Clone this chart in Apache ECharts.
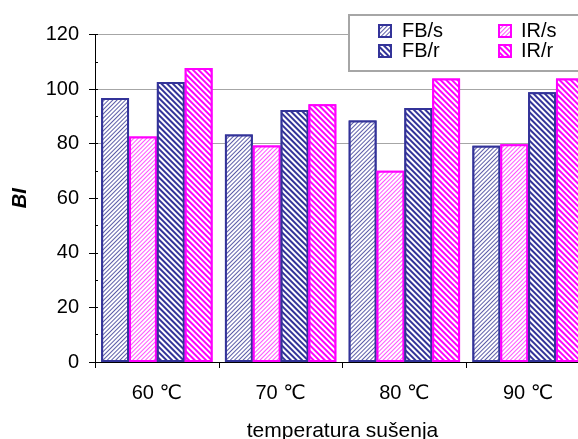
<!DOCTYPE html>
<html>
<head>
<meta charset="utf-8">
<script src="https://cdn.jsdelivr.net/npm/echarts@6/dist/echarts.min.js"></script>
<style>html,body{margin:0;padding:0;background:#fff}#c{width:578px;height:439px}</style>
</head>
<body>
<div id="c"></div>
<script>
const categories = ['60 ℃', '70 ℃', '80 ℃', '90 ℃'];
const seriesNames = ['FB/s', 'IR/s', 'FB/r', 'IR/r'];
const fbS = [96.7, 83.4, 88.5, 79.2];
const irS = [82.6, 79.3, 70.1, 79.8];
const fbR = [102.6, 92.3, 93.1, 98.8];
const irR = [107.7, 94.4, 103.9, 103.9];
const yTicks = [0, 20, 40, 60, 80, 100, 120];

const FONT = "'Liberation Sans', Arial, 'DejaVu Sans', sans-serif";
const BLUE = '#333399', MAG = '#FF00FF';

function mkSeries(name, data, border, stripe, rot, dashY) {
  return {
    name: name, type: 'bar', data: data, yAxisIndex: 0,
    barGap: '0%', barCategoryGap: '10%',
    itemStyle: {
      color: '#ffffff', borderColor: border, borderWidth: 2,
      decal: { symbol: 'rect', symbolSize: 1, dashArrayX: [1, 0], dashArrayY: dashY,
               rotation: rot, color: stripe, backgroundColor: '#ffffff' }
    },
    emphasis: { disabled: true }
  };
}

const chart = echarts.init(document.getElementById('c'), null, { renderer: 'canvas' });
const gridColors = yTicks.map(v => (v >= 80 ? '#a6a6a6' : 'rgba(0,0,0,0)'));

chart.setOption({
  animation: false,
  backgroundColor: '#ffffff',
  textStyle: { fontFamily: FONT },
  grid: { left: 95, width: 495, top: 34.5, bottom: 77, containLabel: false, outerBoundsMode: 'none' },
  graphic: [{
    type: 'rect', z: 9,
    shape: { x: 349, y: 15, width: 240, height: 56 },
    style: { fill: '#ffffff', stroke: '#a6a6a6', lineWidth: 2 }
  }],
  legend: [
    { data: ['FB/s', 'FB/r'], orient: 'vertical', left: 378, top: 21, padding: 0, z: 10,
      itemWidth: 12, itemHeight: 12, itemGap: 0, icon: 'rect', selectedMode: false,
      textStyle: { fontFamily: FONT, fontSize: 20, color: '#000', lineHeight: 20, padding: [0, 0, 0, 6] } },
    { data: ['IR/s', 'IR/r'], orient: 'vertical', left: 498, top: 21, padding: 0, z: 10,
      itemWidth: 12, itemHeight: 12, itemGap: 0, icon: 'rect', selectedMode: false,
      textStyle: { fontFamily: FONT, fontSize: 20, color: '#000', lineHeight: 20, padding: [0, 0, 0, 5] } }
  ],
  xAxis: {
    type: 'category', data: categories, boundaryGap: true,
    name: 'temperatura sušenja', nameLocation: 'middle', nameGap: 59,
    nameTextStyle: { fontFamily: FONT, fontSize: 21, color: '#000' },
    axisLine: { lineStyle: { color: '#000', width: 1 } },
    axisTick: { show: true, length: 6, alignWithLabel: false, lineStyle: { color: '#000' } },
    axisLabel: { fontFamily: FONT, fontSize: 20, color: '#000', margin: 21 },
    splitLine: { show: false }
  },
  yAxis: [
    {
      type: 'value', min: 0, max: 120, interval: 20,
      name: 'BI', nameLocation: 'middle', nameGap: 65, nameRotate: 90,
      nameTextStyle: { fontFamily: FONT, fontSize: 20, fontWeight: 'bold', fontStyle: 'italic', color: '#000' },
      axisLine: { show: true, lineStyle: { color: '#000', width: 1 } },
      axisTick: { show: true, length: 6, lineStyle: { color: '#000' } },
      axisLabel: { fontFamily: FONT, fontSize: 20, color: '#000', margin: 16,
                   formatter: v => (yTicks.indexOf(v) >= 0 ? String(v) : '') },
      splitLine: { show: true, lineStyle: { color: gridColors, width: 1 } }
    },
    {
      type: 'value', min: 0, max: 120, interval: 20, position: 'left',
      axisLine: { show: false },
      axisTick: { show: true, inside: true, length: 3, lineStyle: { color: '#000' } },
      minorTick: { show: true, splitNumber: 2, length: 3, lineStyle: { color: '#000' } },
      axisLabel: { show: false }, splitLine: { show: false }
    }
  ],
  series: [
    mkSeries(seriesNames[0], fbS, BLUE, '#5c5ca8', -Math.PI / 4, [1, 2]),
    mkSeries(seriesNames[1], irS, MAG, '#ff55ff', -Math.PI / 4, [1, 2]),
    mkSeries(seriesNames[2], fbR, BLUE, BLUE, Math.PI / 4, [1.5, 1.5]),
    mkSeries(seriesNames[3], irR, MAG, MAG, Math.PI / 4, [1.5, 1.5])
  ]
});
</script>
</body>
</html>
